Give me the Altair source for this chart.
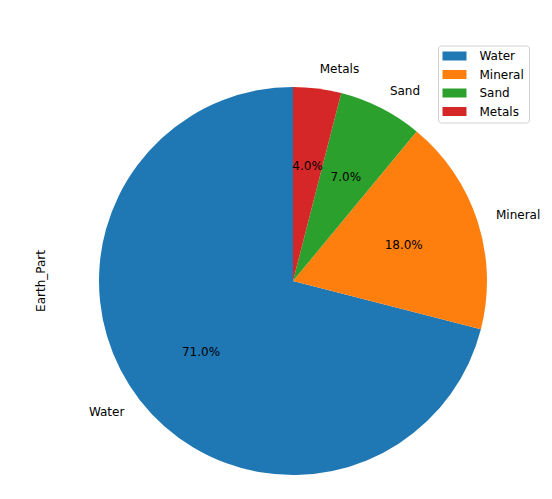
import math
import altair as alt
import pandas as pd

parts = ["Water", "Mineral", "Sand", "Metals"]
values = [71, 18, 7, 4]
colors = ["#1f77b4", "#ff7f0e", "#2ca02c", "#d62728"]
# clockwise order from 12 o'clock (matplotlib startangle=90, counterclockwise)
draw_order = [4, 3, 2, 1]

df = pd.DataFrame({"part": parts, "value": values, "ord": draw_order})

CX, CY, R = 285, 273, 194
FONT = "DejaVu Sans"

color = alt.Color(
    "part:N",
    scale=alt.Scale(domain=parts, range=colors),
    legend=alt.Legend(
        title=None, orient="none", legendX=430, legendY=37.5,
        symbolType="M-1,-0.75L3,-0.75L3,0.75L-1,0.75Z", symbolSize=144,
        symbolStrokeWidth=0, symbolOpacity=1,
        labelFont=FONT, labelFontSize=12, labelColor="#000000", labelOffset=25,
        rowPadding=6.5, padding=4.5, strokeColor="#d0d0d0", fillColor="white",
        cornerRadius=3,
    ),
)

base = alt.Chart(df)

arcs = base.mark_arc(outerRadius=R, stroke=None).encode(
    theta=alt.Theta("value:Q", stack=True),
    order=alt.Order("ord:Q"),
    color=color,
    x=alt.value(CX), y=alt.value(CY),
)

calc = base.transform_window(
    cum="sum(value)", sort=[alt.SortField("ord")], frame=[None, 0]
).transform_joinaggregate(total="sum(value)").transform_calculate(
    mid="datum.cum - datum.value/2",
    pct="format(datum.value / datum.total * 100, '.1f') + '%'",
)

theta_mid = alt.Theta("mid:Q", stack=None,
                      scale=alt.Scale(domain=[0, 100], range=[0, 2 * math.pi]))

pct_text = calc.mark_text(radius=R * 0.6, font=FONT, fontSize=12, color="black").encode(
    theta=theta_mid, text="pct:N", x=alt.value(CX), y=alt.value(CY))

lab_right = calc.transform_filter("datum.mid <= 50").mark_text(
    radius=R * 1.1, font=FONT, fontSize=12, color="black", align="left", baseline="middle"
).encode(theta=theta_mid, text="part:N", x=alt.value(CX), y=alt.value(CY))

lab_left = calc.transform_filter("datum.mid > 50").mark_text(
    radius=R * 1.1, font=FONT, fontSize=12, color="black", align="right", baseline="middle"
).encode(theta=theta_mid, text="part:N", x=alt.value(CX), y=alt.value(CY))

ylabel = alt.Chart(pd.DataFrame({"t": ["Earth_Part"]})).mark_text(
    angle=270, font=FONT, fontSize=12, color="black", baseline="middle"
).encode(text="t:N", x=alt.value(33), y=alt.value(273))

chart = alt.layer(arcs, pct_text, lab_right, lab_left, ylabel).properties(
    width=536, height=483, padding=0, autosize=alt.AutoSizeParams(type="none")
).configure_view(stroke=None)

chart.save("out.html", embed_options={"renderer": "svg", "actions": False})
